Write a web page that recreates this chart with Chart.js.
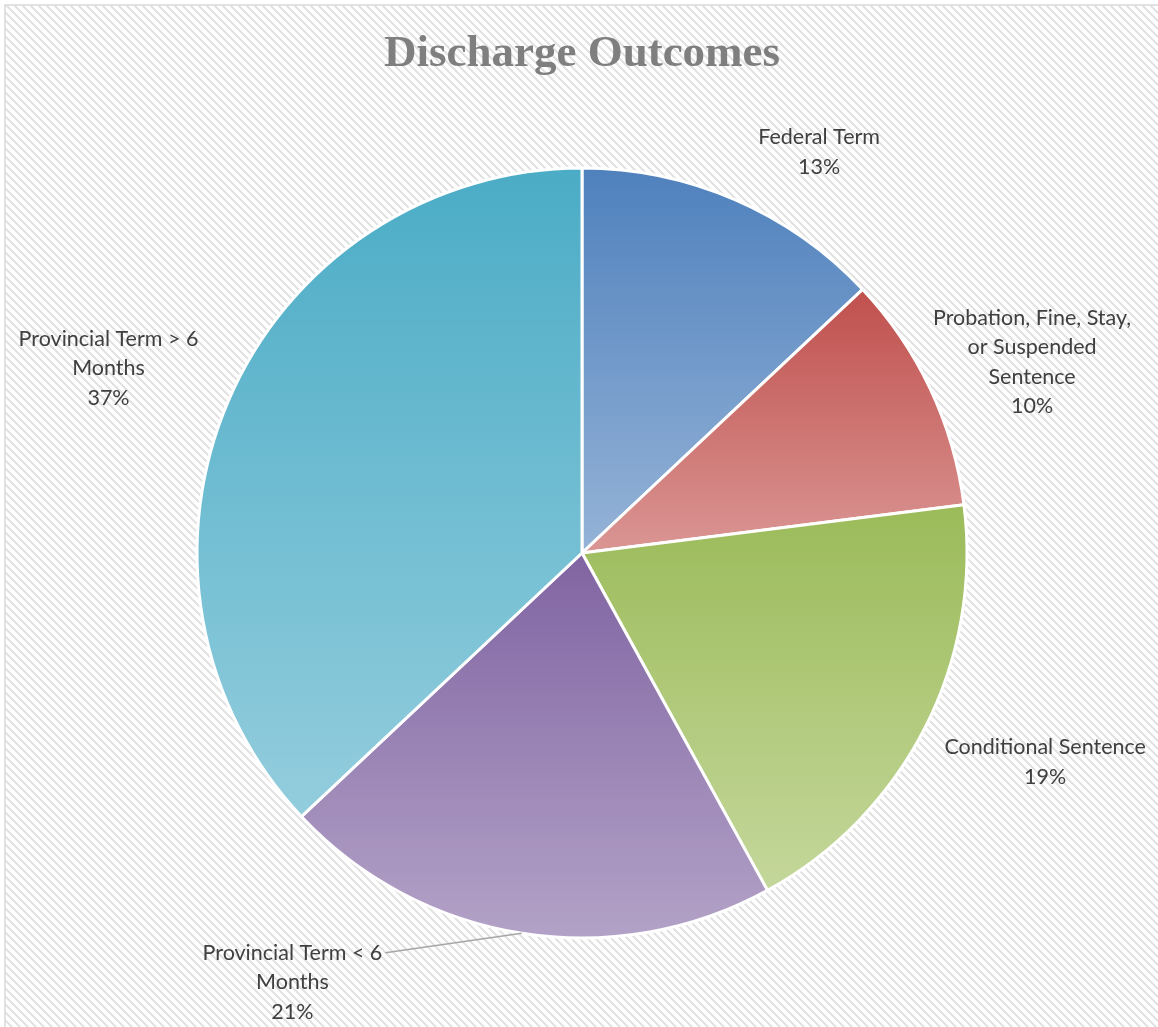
<!DOCTYPE html>
<html>
<head>
<meta charset="utf-8">
<script src="https://cdn.jsdelivr.net/npm/chart.js@4.4.0/dist/chart.umd.min.js"></script>
<style>
  html, body { margin: 0; padding: 0; background: #fff; }
  canvas { display: block; }
</style>
</head>
<body>
<canvas id="grafico" width="1158" height="1027"></canvas>
<script>
const categorias = [
  ['Federal Term'],
  ['Probation, Fine, Stay,', 'or Suspended', 'Sentence'],
  ['Conditional Sentence'],
  ['Provincial Term < 6', 'Months'],
  ['Provincial Term > 6', 'Months']
];
const percentuais = [13, 10, 19, 21, 37];
const coresTopo = ['#4F81BD', '#C0504D', '#9BBB59', '#8064A2', '#4BACC6'];
const coresBase = ['#95B3D7', '#DA9694', '#C4D79B', '#B3A2C7', '#93CDDD'];

// rótulos: [desvio do ângulo médio da fatia (graus), distância em raios, linha guia]
const rotulosPos = [[7.2, 1.21, false], [2.2, 1.27, false], [-2.7, 1.32, false], [25, 1.345, true], [-2.1, 1.32, false]];

const fonteRotulo = '21.5px Lato';
const alturaLinha = 29.5;
const bordaFatia = 3;

function geometria(chart) {
  const a = chart.chartArea;
  const cx = (a.left + a.right) / 2, cy = (a.top + a.bottom) / 2;
  const r = (Math.min(a.right - a.left, a.bottom - a.top) - bordaFatia) / 2;
  return { cx, cy, r };
}

function angulosFatia(i) {
  const total = percentuais.reduce((s, v) => s + v, 0);
  const antes = percentuais.slice(0, i).reduce((s, v) => s + v, 0);
  const ini = antes / total * 2 * Math.PI - Math.PI / 2;
  const fim = ini + percentuais[i] / total * 2 * Math.PI;
  return { ini, fim };
}

// gradiente vertical do topo ao pé de cada fatia
function gradienteFatia(context) {
  const i = context.dataIndex;
  const chart = context.chart;
  if (!chart.chartArea) return coresTopo[i];
  const { cx, cy, r } = geometria(chart);
  const { ini, fim } = angulosFatia(i);
  const ys = [cy, cy + r * Math.sin(ini), cy + r * Math.sin(fim)];
  [-Math.PI / 2, Math.PI / 2, 3 * Math.PI / 2].forEach(a => {
    if (a >= ini && a <= fim) ys.push(cy + r * Math.sin(a));
  });
  const g = chart.ctx.createLinearGradient(0, Math.min(...ys), 0, Math.max(...ys));
  g.addColorStop(0, coresTopo[i]);
  g.addColorStop(1, coresBase[i]);
  return g;
}

function padraoListras(ctx) {
  const tile = document.createElement('canvas');
  tile.width = 8; tile.height = 8;
  const t = tile.getContext('2d');
  t.fillStyle = '#ffffff';
  t.fillRect(0, 0, 8, 8);
  t.fillStyle = '#e3e3e3';
  for (let y = 0; y < 8; y++) {
    for (let x = 0; x < 8; x++) {
      if (((x - y) % 8 + 8) % 8 < 3) t.fillRect(x, y, 1, 1);
    }
  }
  return ctx.createPattern(tile, 'repeat');
}

const fundoPlugin = {
  id: 'fundo',
  beforeDraw(chart) {
    const { ctx, width, height } = chart;
    ctx.save();
    ctx.fillStyle = '#ffffff';
    ctx.fillRect(0, 0, width, height);
    ctx.fillStyle = padraoListras(ctx);
    ctx.fillRect(6, 6, width, height);
    ctx.strokeStyle = '#d9d9d9';
    ctx.lineWidth = 1.5;
    ctx.strokeRect(5, 5, width + 10, height + 10);

    ctx.fillStyle = '#7f7f7f';
    ctx.font = 'bold 45px "Liberation Serif"';
    ctx.textAlign = 'center';
    ctx.textBaseline = 'alphabetic';
    ctx.fillText('Discharge Outcomes', 582, 66);
    ctx.restore();
  }
};

const rotulosPlugin = {
  id: 'rotulos',
  afterDatasetsDraw(chart) {
    const { ctx } = chart;
    const { cx, cy, r } = geometria(chart);
    ctx.save();
    ctx.font = fonteRotulo;
    ctx.fillStyle = '#404040';
    ctx.textAlign = 'center';
    ctx.textBaseline = 'middle';
    categorias.forEach((linhas, i) => {
      const { ini, fim } = angulosFatia(i);
      const meio = (ini + fim) / 2;
      const [desvio, dist, guia] = rotulosPos[i];
      const ang = meio + desvio * Math.PI / 180;
      const x = cx + Math.cos(ang) * r * dist;
      const y = cy + Math.sin(ang) * r * dist;
      const texto = linhas.concat([percentuais[i] + '%']);
      const y0 = y - (texto.length - 1) * alturaLinha / 2;
      texto.forEach((t, k) => ctx.fillText(t, x, y0 + k * alturaLinha));
      if (guia) {
        const w = ctx.measureText(linhas[0]).width;
        ctx.beginPath();
        ctx.moveTo(cx + Math.cos(meio) * r, cy + Math.sin(meio) * r);
        ctx.lineTo(x + w / 2 + 3, y0);
        ctx.strokeStyle = '#a6a6a6';
        ctx.lineWidth = 1.5;
        ctx.stroke();
      }
    });
    ctx.restore();
  }
};

new Chart(document.getElementById('grafico'), {
  type: 'pie',
  data: {
    labels: categorias.map(l => l.join(' ')),
    datasets: [{
      data: percentuais,
      backgroundColor: gradienteFatia,
      borderColor: '#ffffff',
      borderWidth: bordaFatia,
      hoverOffset: 0
    }]
  },
  options: {
    responsive: false,
    devicePixelRatio: 1,
    animation: false,
    events: [],
    layout: { padding: { left: 195.5, right: 189.5, top: 166.5, bottom: 87.5 } },
    plugins: {
      legend: { display: false },
      tooltip: { enabled: false },
      title: { display: false }
    }
  },
  plugins: [fundoPlugin, rotulosPlugin]
});
</script>
</body>
</html>
